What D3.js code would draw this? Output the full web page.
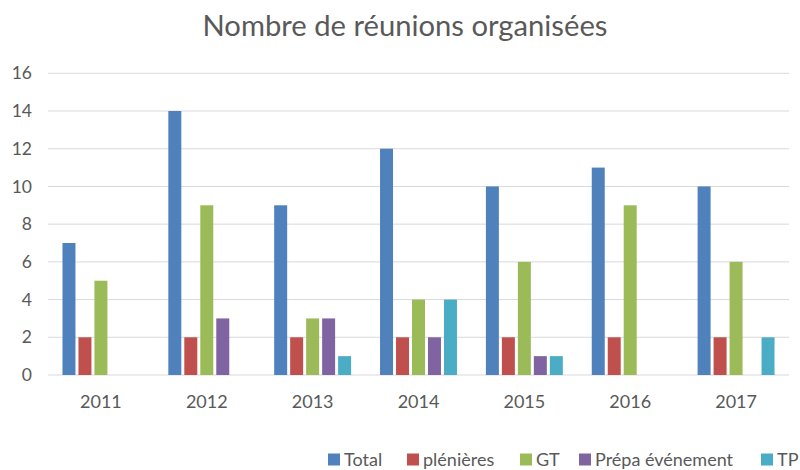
<!DOCTYPE html>
<html>
<head>
<meta charset="utf-8">
<script src="https://cdn.jsdelivr.net/npm/d3@7"></script>
<style>
  html, body { margin: 0; padding: 0; background: #fff; }
  svg { display: block; font-family: Lato, "Open Sans", sans-serif; }
</style>
</head>
<body>
<svg id="chart" width="800" height="470"></svg>
<script>
const years = ["2011", "2012", "2013", "2014", "2015", "2016", "2017"];
const seriesNames = ["Total", "plénières", "GT", "Prépa événement", "TP"];
const total = [7, 14, 9, 12, 10, 11, 10];
const plenieres = [2, 2, 2, 2, 2, 2, 2];
const gt = [5, 9, 3, 4, 6, 9, 6];
const prepa = [0, 3, 3, 2, 1, 0, 0];
const tp = [0, 0, 1, 4, 1, 0, 2];
const colors = ["#4F81BD", "#C0504D", "#9BBB59", "#8064A2", "#4BACC6"];
const yTicks = [0, 2, 4, 6, 8, 10, 12, 14, 16];
const title = "Nombre de réunions organisées";

const seriesValues = [total, plenieres, gt, prepa, tp];

const svg = d3.select("#chart");
const plotLeft = 48, plotRight = 789, plotTop = 73.3, plotBottom = 375;

const x0 = d3.scaleBand().domain(years).range([plotLeft, plotRight]).paddingInner(0.245).paddingOuter(0.1225);
const x1 = d3.scaleBand().domain(seriesNames).range([0, x0.bandwidth()]).padding(0);
const y = d3.scaleLinear().domain([0, 16]).range([plotBottom, plotTop]);

// gridlines
svg.append("g").selectAll("line").data(yTicks).join("line")
  .attr("x1", plotLeft).attr("x2", plotRight)
  .attr("y1", d => y(d)).attr("y2", d => y(d))
  .attr("stroke", "#D9D9D9")
  .attr("stroke-width", 1);

// y axis labels
const yAxis = d3.axisLeft(y).tickValues(yTicks).tickSize(0).tickPadding(16);
const yg = svg.append("g").attr("transform", `translate(${plotLeft},0)`).call(yAxis);
yg.select(".domain").remove();
yg.selectAll("text").attr("fill", "#595959").style("font-size", "17.5px").style("font-family", "Lato, sans-serif");

// x axis labels
const xAxis = d3.axisBottom(x0).tickSize(0).tickPadding(20);
const xg = svg.append("g").attr("transform", `translate(0,${plotBottom})`).call(xAxis);
xg.select(".domain").remove();
xg.selectAll("text").attr("fill", "#595959").style("font-size", "18px").style("font-family", "Lato, sans-serif");

// bars
const gap = 3;
const groups = svg.append("g").selectAll("g").data(years).join("g")
  .attr("transform", d => `translate(${x0(d)},0)`);
groups.selectAll("rect")
  .data((yr, i) => seriesNames.map((s, j) => ({ s, j, v: seriesValues[j][i] })).filter(d => d.v > 0))
  .join("rect")
  .attr("x", d => x1(d.s) + gap / 2)
  .attr("width", x1.bandwidth() - gap)
  .attr("y", d => y(d.v))
  .attr("height", d => y(0) - y(d.v))
  .attr("fill", d => colors[d.j]);

// title
const t = svg.append("text").attr("x", 405).attr("y", 36)
  .attr("text-anchor", "middle").attr("fill", "#595959")
  .style("font-size", "25px").text(title);
const tw = t.node().getComputedTextLength();
t.style("font-size", (25 * 405 / tw).toFixed(2) + "px");

// legend
const legendX = [328, 407, 520, 579, 761];
const lg = svg.append("g").selectAll("g").data(seriesNames).join("g")
  .attr("transform", (d, i) => `translate(${legendX[i]},459.5)`);
lg.append("rect").attr("x", 0).attr("y", -6).attr("width", 12).attr("height", 12)
  .attr("fill", (d, i) => colors[i]);
lg.append("text").attr("x", 16).attr("y", 0).attr("dy", "0.35em")
  .attr("fill", "#595959").style("font-size", "18px").text(d => d);
</script>
</body>
</html>
